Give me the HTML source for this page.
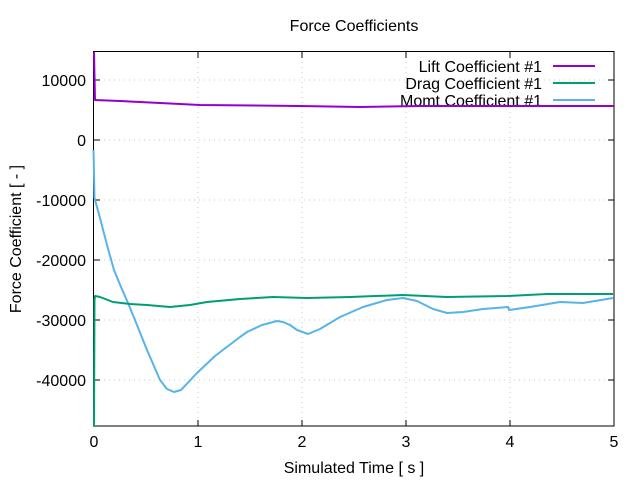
<!DOCTYPE html>
<html><head><style>body{margin:0;background:#fff}svg{display:block;font-family:"Liberation Sans",sans-serif}</style></head>
<body>
<svg width="640" height="480" viewBox="0 0 640 480">
<rect width="640" height="480" fill="#fff"/>
<g stroke="#c8c8c8" stroke-dasharray="1,4" stroke-width="1">
<line x1="94" y1="80" x2="614" y2="80"/><line x1="94" y1="140" x2="614" y2="140"/>
<line x1="94" y1="200" x2="614" y2="200"/><line x1="94" y1="260" x2="614" y2="260"/>
<line x1="94" y1="320" x2="614" y2="320"/><line x1="94" y1="380" x2="614" y2="380"/>
<line x1="198" y1="52" x2="198" y2="426"/><line x1="302" y1="52" x2="302" y2="426"/>
<line x1="406" y1="52" x2="406" y2="426"/><line x1="510" y1="52" x2="510" y2="426"/>
</g>
<g stroke="#000" stroke-width="1" fill="none">
<rect x="93.5" y="51.5" width="520.5" height="374.5"/>
<path d="M94 80h6M94 140h6M94 200h6M94 260h6M94 320h6M94 380h6M614 80h-6M614 140h-6M614 200h-6M614 260h-6M614 320h-6M614 380h-6M198 426v-6M302 426v-6M406 426v-6M510 426v-6M198 52v6M302 52v6M406 52v6M510 52v6"/>
</g>
<g font-size="16" fill="#000" text-anchor="end">
<text x="86" y="86">10000</text><text x="86" y="146">0</text><text x="86" y="206">-10000</text>
<text x="86" y="266">-20000</text><text x="86" y="326">-30000</text><text x="86" y="386">-40000</text>
</g>
<g font-size="16" fill="#000" text-anchor="middle">
<text x="94" y="447">0</text><text x="198" y="447">1</text><text x="302" y="447">2</text><text x="406" y="447">3</text><text x="510" y="447">4</text><text x="614" y="447">5</text>
<text x="354" y="473">Simulated Time [ s ]</text>
<text x="354" y="31" font-size="16">Force Coefficients</text>
<text transform="translate(21,239) rotate(-90)">Force Coefficient [ - ]</text>
</g>
<g font-size="16" fill="#000" text-anchor="end">
<text x="542" y="72">Lift Coefficient #1</text>
<text x="542" y="89">Drag Coefficient #1</text>
<text x="542" y="106">Momt Coefficient #1</text>
</g>
<g stroke-width="2" fill="none" stroke-linejoin="round">
<line x1="553" y1="66" x2="595" y2="66" stroke="#9400d3"/>
<line x1="553" y1="83" x2="595" y2="83" stroke="#009e73"/>
<line x1="553" y1="100" x2="595" y2="100" stroke="#56b4e9"/>
<path stroke="#56b4e9" d="M93.5 150L94.5 198L100 218L107 245L114 270L121 287L128 303L135 320L147 350L160 380L167 389L174 392L181 390L197 373L215 356L240 337L247 332L262 325L277 321L283 322L290 325L297 330L308 334L320 329L340 317L363 307L387 300L403 298L417 301L425 305L433 309L447 313L463 312L483 309L508 307L509 310L530 307L560 302L583 303L613 298"/>
<path stroke="#009e73" d="M94 426L94.5 300L95 296L100 297L113 302L130 304L147 305L170 307L190 305L207 302L240 299L273 297L307 298L350 297L403 295L447 297L507 296L547 294L613 294"/>
<path stroke="#9400d3" d="M94 52L95 100L120 101L160 103L200 105L300 106L360 107L420 106L614 106"/>
</g>
</svg>
</body></html>
